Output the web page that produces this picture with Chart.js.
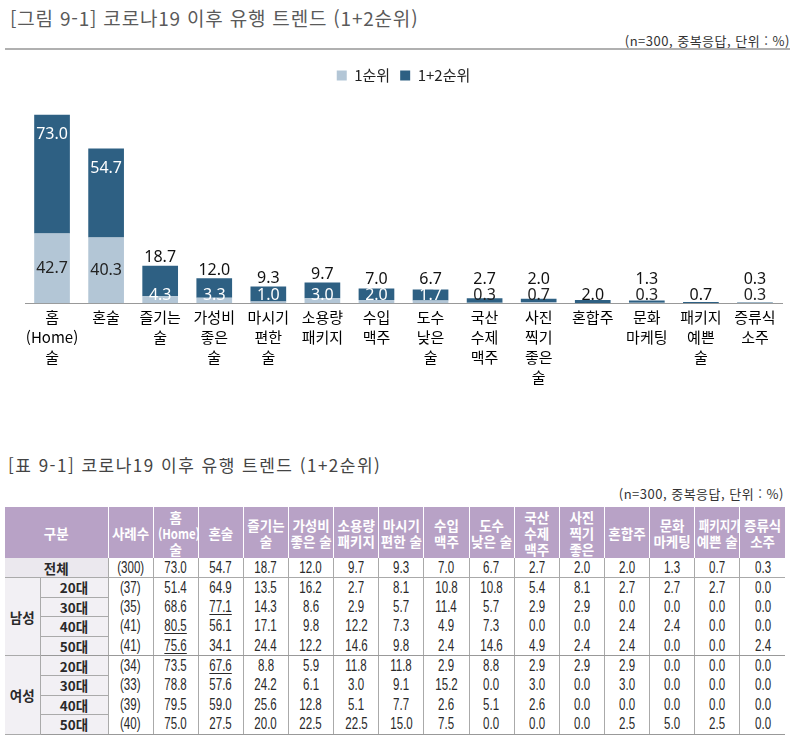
<!DOCTYPE html>
<html lang="ko">
<head>
<meta charset="utf-8">
<script src="https://cdn.jsdelivr.net/npm/chart.js@4.4.1/dist/chart.umd.min.js"></script>
<style>
    body { margin: 0; width: 800px; height: 736px; position: relative; overflow: hidden; background: #fff;
           font-family: 'Noto Sans CJK KR', 'Noto Sans', sans-serif; }
    .ttl { position: absolute; left: 10px; top: 6px; font-size: 19px; line-height: 24px; letter-spacing: 0.8px; color: #5a5a5a; white-space: nowrap; }
    .unit { position: absolute; right: 10px; top: 32px; font-size: 13px; line-height: 18px; letter-spacing: 0.5px; color: #333; white-space: nowrap; }
    .rule { position: absolute; left: 5px; width: 785px; top: 48px; border-top: 2px solid #b0b0b0; }
    #chartBox { position: absolute; left: 0; top: 58px; width: 800px; height: 333px; }
    .ttl2 { position: absolute; left: 8px; top: 453px; font-size: 17px; line-height: 24px; letter-spacing: 1.5px; color: #444; white-space: nowrap; }
    .unit2 { top: 485px; right: 16px; }
    table { position: absolute; left: 5px; top: 507px; border-collapse: collapse; table-layout: fixed; width: 780px; }
    th { background: #b8a2c6; color: #fff; font-weight: bold; font-size: 13.5px; line-height: 16px; height: 51px;
         padding: 0; border-left: 1px solid #fff; overflow: hidden; white-space: nowrap; }
    th:first-child { border-left: none; }
    th span { display: inline-block; transform-origin: center; }
    td { height: 18.6px; padding: 0; font-family: 'Liberation Sans', 'Noto Sans CJK KR', sans-serif; font-size: 16px;
         line-height: 18px; text-align: center; color: #2a2a2a; border-left: 1px solid #aaa; white-space: nowrap; }
    td .n { display: inline-block; transform: scaleX(0.72); }
    td.lab { font-family: 'Noto Sans CJK KR', sans-serif; font-weight: bold; font-size: 13.5px; background: #f2f0f4; }
    td.grp { border-left: none; background: #f2f0f4; }
    tr.total td { height: 19px; background: #fff; border-bottom: 1px solid #aaa; }
    tr.total td.lab { background: #ebe8ee; border-left: none; }
    tr.age td.lab { border-bottom: 1px solid #aaa; }
    tr.last td { border-bottom: 1px solid #999; }
    u { text-underline-offset: 2px; }
</style>
</head>
<body>
<div class="ttl">[그림 9-1] 코로나19 이후 유행 트렌드 (1+2순위)</div>
<div class="unit">(n=300, 중복응답, 단위 : %)</div>
<div class="rule"></div>
<div id="chartBox"><canvas id="trendChart" width="800" height="333"></canvas></div>

<div class="ttl2">[표 9-1] 코로나19 이후 유행 트렌드 (1+2순위)</div>
<div class="unit unit2">(n=300, 중복응답, 단위 : %)</div>
<table id="trendTable"></table>

<script>
// chart data
const categories = [
    ['홈', '(Home)', '술'], ['혼술'], ['즐기는', '술'], ['가성비', '좋은', '술'], ['마시기', '편한', '술'],
    ['소용량', '패키지'], ['수입', '맥주'], ['도수', '낮은', '술'], ['국산', '수제', '맥주'], ['사진', '찍기', '좋은', '술'],
    ['혼합주'], ['문화', '마케팅'], ['패키지', '예쁜', '술'], ['증류식', '소주']
];
const rank1 = [42.7, 40.3, 4.3, 3.3, 1.0, 3.0, 2.0, 1.7, 0.3, 0.7, 0, 0.3, 0, 0.3];
const rank12 = [73.0, 54.7, 18.7, 12.0, 9.3, 9.7, 7.0, 6.7, 2.7, 2.0, 2.0, 1.3, 0.7, 0.3];

// table data
const tableHeads = ['사례수', '홈<br>(Home)<br>술', '혼술', '즐기는<br>술', '가성비<br>좋은 술', '소용량<br>패키지',
    '마시기<br>편한 술', '수입<br>맥주', '도수<br>낮은 술', '국산<br>수제<br>맥주', '사진<br>찍기<br>좋은', '혼합주',
    '문화<br>마케팅', '패키지가<br>예쁜 술', '증류식<br>소주'];
const totalRow = ['(300)', 73.0, 54.7, 18.7, 12.0, 9.7, 9.3, 7.0, 6.7, 2.7, 2.0, 2.0, 1.3, 0.7, 0.3];
const ageLabels = ['20대', '30대', '40대', '50대'];
const maleRows = [
    ['(37)', 51.4, 64.9, 13.5, 16.2, 2.7, 8.1, 10.8, 10.8, 5.4, 8.1, 2.7, 2.7, 2.7, 0.0],
    ['(35)', 68.6, 77.1, 14.3, 8.6, 2.9, 5.7, 11.4, 5.7, 2.9, 2.9, 0.0, 0.0, 0.0, 0.0],
    ['(41)', 80.5, 56.1, 17.1, 9.8, 12.2, 7.3, 4.9, 7.3, 0.0, 0.0, 2.4, 2.4, 0.0, 0.0],
    ['(41)', 75.6, 34.1, 24.4, 12.2, 14.6, 9.8, 2.4, 14.6, 4.9, 2.4, 2.4, 0.0, 0.0, 2.4]
];
const femaleRows = [
    ['(34)', 73.5, 67.6, 8.8, 5.9, 11.8, 11.8, 2.9, 8.8, 2.9, 2.9, 2.9, 0.0, 0.0, 0.0],
    ['(33)', 78.8, 57.6, 24.2, 6.1, 3.0, 9.1, 15.2, 0.0, 3.0, 0.0, 3.0, 0.0, 0.0, 0.0],
    ['(39)', 79.5, 59.0, 25.6, 12.8, 5.1, 7.7, 2.6, 5.1, 2.6, 0.0, 0.0, 0.0, 0.0, 0.0],
    ['(40)', 75.0, 27.5, 20.0, 22.5, 22.5, 15.0, 7.5, 0.0, 0.0, 0.0, 2.5, 5.0, 2.5, 0.0]
];
// underlined cells: [group, age index, column index]
const underlined = [['남성', 1, 2], ['남성', 2, 1], ['남성', 3, 1], ['여성', 0, 2]];

const fmt = v => typeof v === 'number' ? v.toFixed(1) : v;

// build table
function buildTable() {
    const t = document.getElementById('trendTable');
    let html = '<colgroup><col style="width:35px"><col style="width:68px">';
    tableHeads.forEach(() => html += '<col>');
    html += '</colgroup>';
    html += '<tr><th colspan="2">구분</th>' +
        tableHeads.map(h => '<th>' + h.split('<br>').map(s => '<span>' + s + '</span>').join('<br>') + '</th>').join('') + '</tr>';
    html += '<tr class="total"><td class="lab" colspan="2">전체</td>' +
        totalRow.map(v => '<td><span class="n">' + fmt(v) + '</span></td>').join('') + '</tr>';
    [['남성', maleRows], ['여성', femaleRows]].forEach(([g, rows]) => {
        rows.forEach((r, i) => {
            const cls = i === rows.length - 1 ? 'last' : 'age';
            html += '<tr class="' + cls + '">';
            if (i === 0) html += '<td class="lab grp" rowspan="' + rows.length + '">' + g + '</td>';
            html += '<td class="lab">' + ageLabels[i] + '</td>';
            r.forEach((v, c) => {
                const u = underlined.some(x => x[0] === g && x[1] === i && x[2] === c);
                html += '<td><span class="n">' + (u ? '<u>' + fmt(v) + '</u>' : fmt(v)) + '</span></td>';
            });
            html += '</tr>';
        });
    });
    t.innerHTML = html;
    // squeeze header lines that are wider than their cell
    t.querySelectorAll('th span').forEach(s => {
        const w = s.getBoundingClientRect().width;
        if (w > 42) s.style.transform = 'scaleX(' + (42 / w).toFixed(3) + ')';
    });
}
buildTable();

// value labels drawn on the bars
const barLabels = {
    id: 'barLabels',
    afterDatasetsDraw(chart) {
        const ctx = chart.ctx;
        const m1 = chart.getDatasetMeta(0);
        const m2 = chart.getDatasetMeta(1);
        const base = chart.scales.y.getPixelForValue(0);
        ctx.save();
        ctx.font = '16px "Noto Sans", sans-serif';
        ctx.textAlign = 'center';
        ctx.textBaseline = 'middle';
        rank1.forEach((v, i) => {
            const b1 = m1.data[i], b2 = m2.data[i];
            const x = b1.x;
            const top = b2.y;
            const y1 = Math.min((b1.y + base) / 2, base - 8);
            if (v > 0) {
                ctx.fillStyle = (v < 10 && base - top > 10) ? '#fff' : '#222';
                ctx.fillText(v.toFixed(1), x, y1);
            }
            let y2, col = '#111';
            if (b2.base - b2.y > 40) {
                y2 = top + 20;
                col = '#fff';
            } else if (v > 0) {
                y2 = Math.min(top - 8, base - 24);
            } else {
                y2 = y1;
            }
            ctx.fillStyle = col;
            ctx.fillText(rank12[i].toFixed(1), x, y2);
        });
        ctx.restore();
    }
};

new Chart(document.getElementById('trendChart'), {
    type: 'bar',
    data: {
        labels: categories,
        datasets: [
            { label: '1순위', data: rank1, backgroundColor: '#b3c6d6', borderWidth: 0 },
            { label: '1+2순위', data: rank12, backgroundColor: '#2e6083', borderWidth: 0 }
        ]
    },
    options: {
        responsive: false,
        animation: false,
        layout: { padding: { left: 25, right: 18, top: 0, bottom: 0 } },
        datasets: { bar: { categoryPercentage: 1, barPercentage: 0.66 } },
        plugins: {
            legend: {
                position: 'top',
                labels: {
                    boxWidth: 10, boxHeight: 10, padding: 10, color: '#222',
                    font: { family: "'Noto Sans CJK KR', sans-serif", size: 15 }
                }
            },
            tooltip: { enabled: false }
        },
        scales: {
            x: {
                stacked: true,
                grid: { display: false, drawTicks: false },
                border: { display: true, color: '#999', width: 1 },
                ticks: {
                    color: '#000', padding: 4, maxRotation: 0, autoSkip: false,
                    font: { family: "'Noto Sans CJK KR', sans-serif", size: 15, lineHeight: 1.33 }
                }
            },
            y: { stacked: true, display: false, min: 0, max: 129 }
        }
    },
    plugins: [barLabels]
});
</script>
</body>
</html>
